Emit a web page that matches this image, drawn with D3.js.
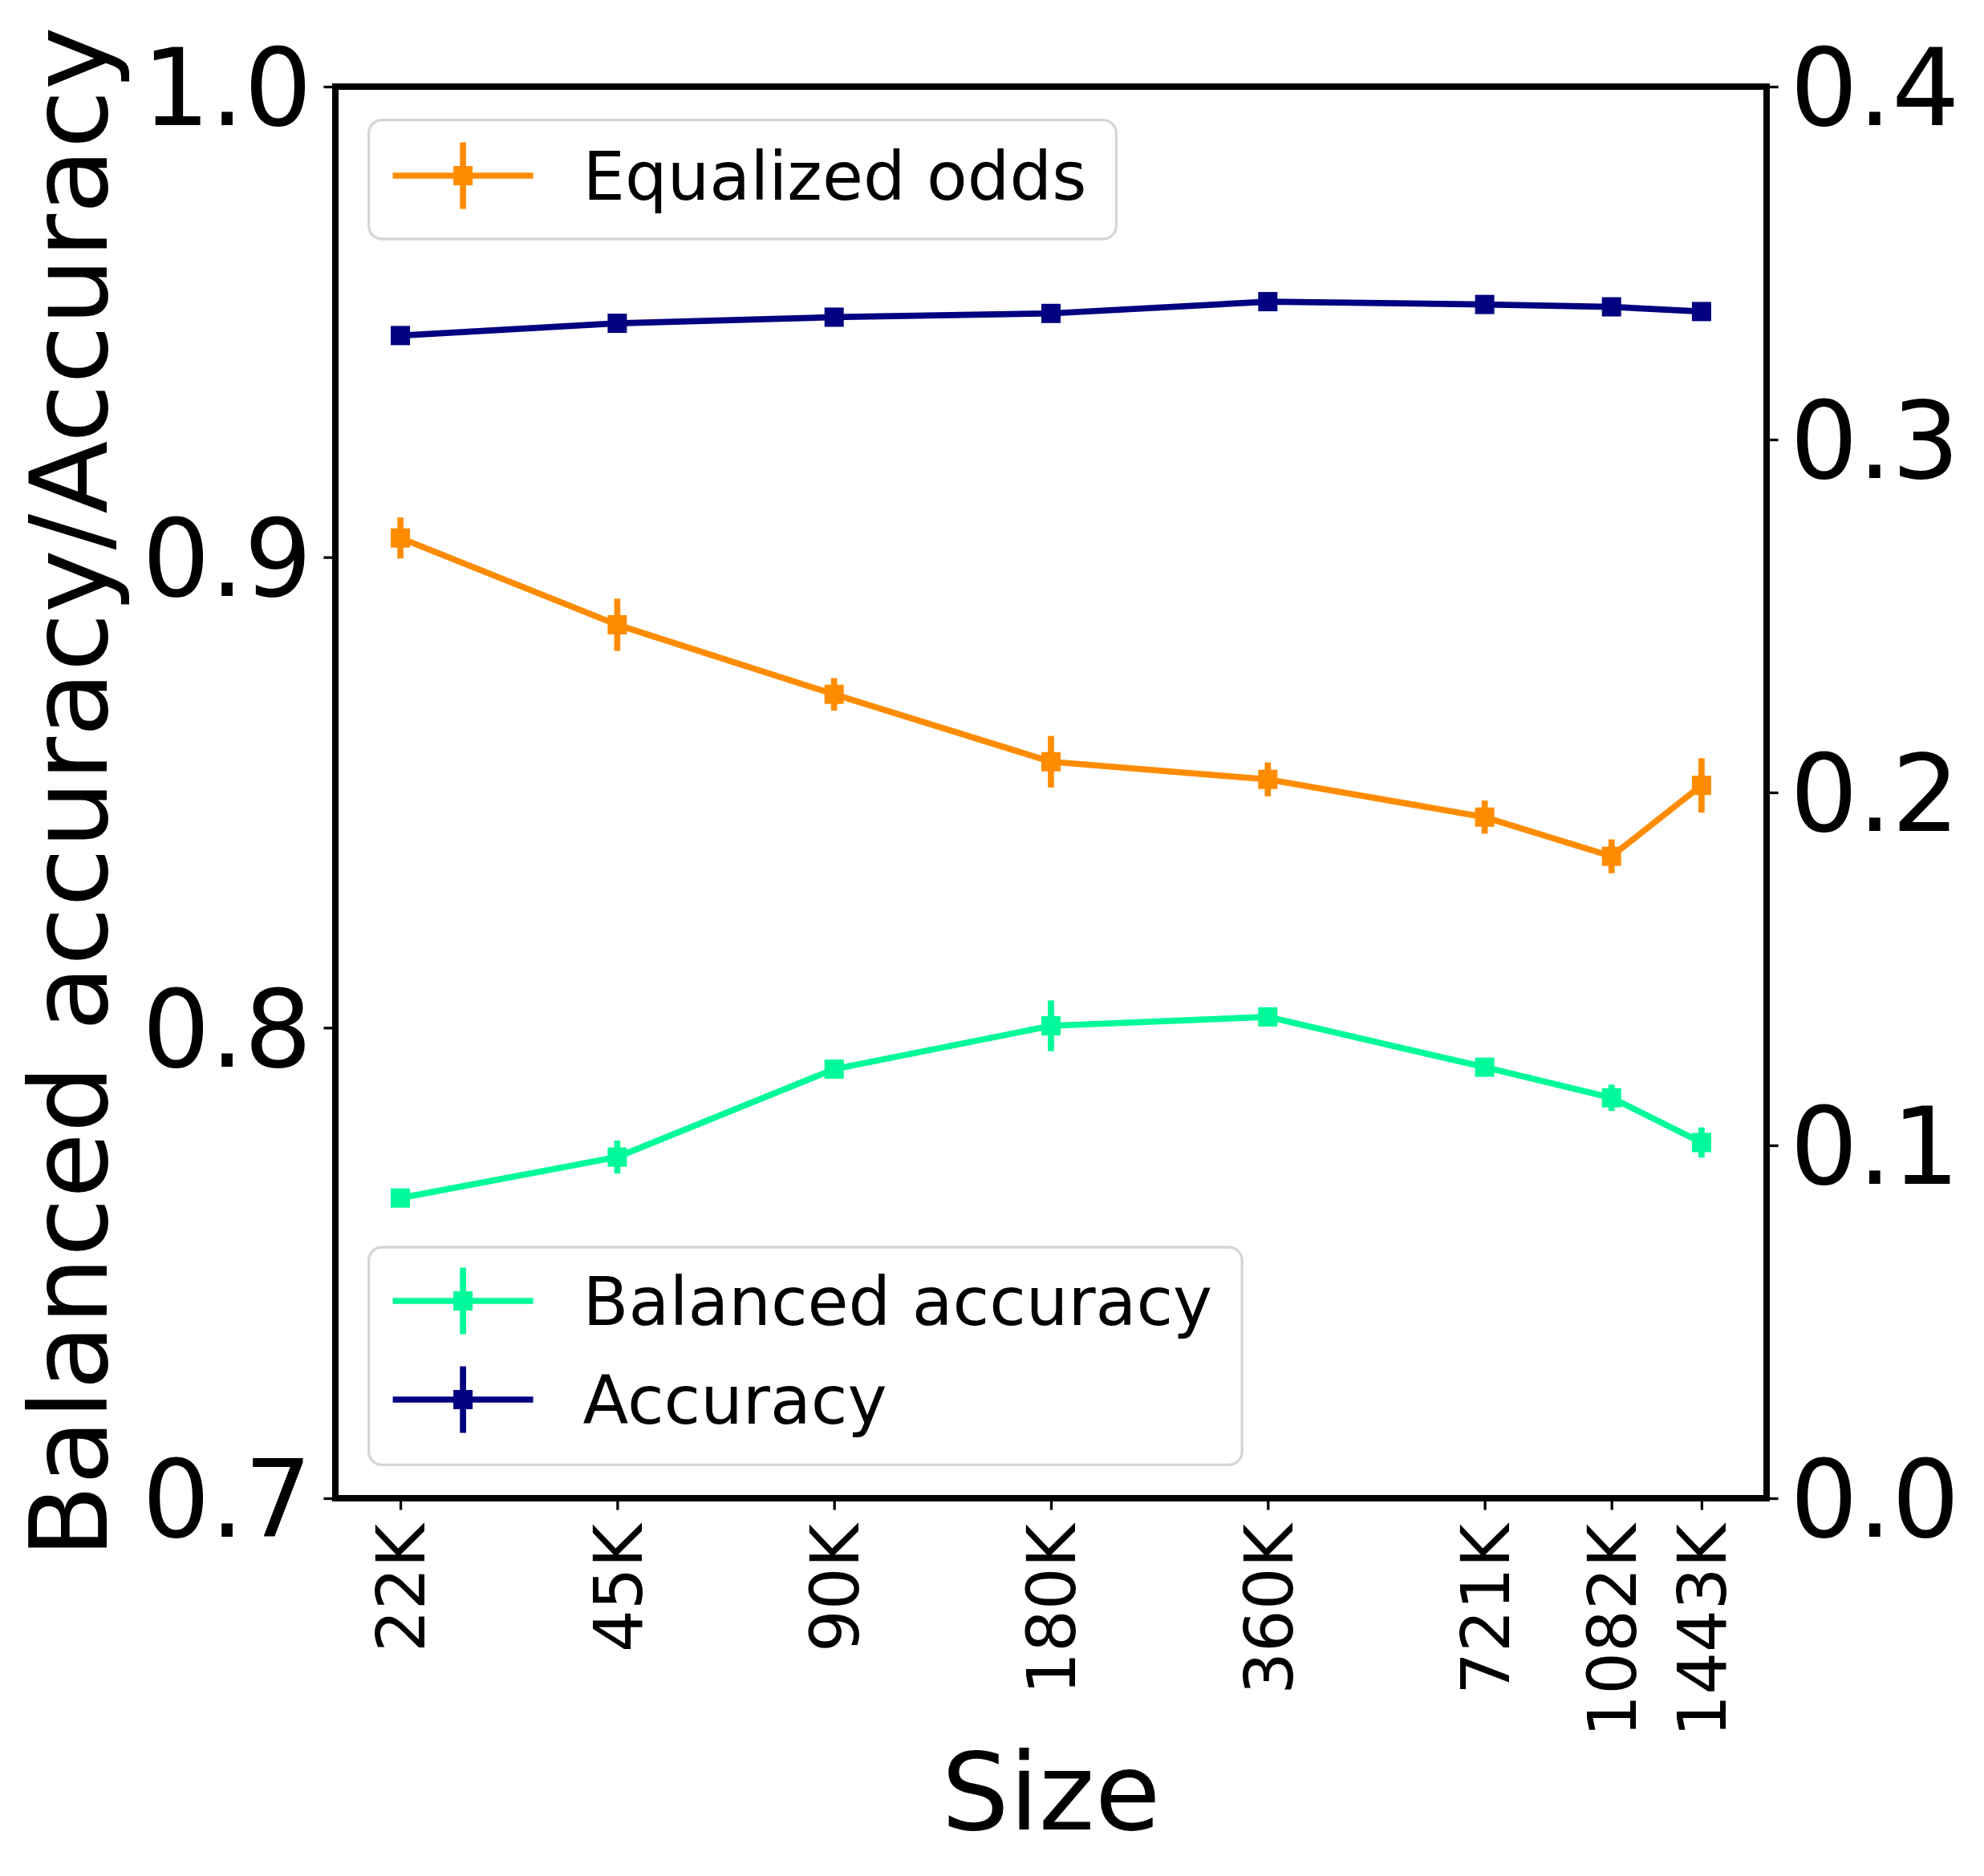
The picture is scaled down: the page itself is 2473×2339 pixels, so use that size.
<!DOCTYPE html>
<html>
<head>
<meta charset="utf-8">
<script src="https://cdn.jsdelivr.net/npm/d3@7"></script>
<style>
  html, body { margin: 0; padding: 0; background: #fff; }
  svg { display: block; font-family: "DejaVu Sans", sans-serif; }
</style>
</head>
<body>
<script>
// data
var sizes = [22547, 45094, 90188, 180375, 360750, 721500, 1082250, 1443000];
var sizeLabels = ["22K", "45K", "90K", "180K", "360K", "721K", "1082K", "1443K"];

var accuracy    = [0.9471, 0.9497, 0.9510, 0.9518, 0.9543, 0.9537, 0.9532, 0.9522];
var accuracyErr = [0.0010, 0.0008, 0.0007, 0.0008, 0.0006, 0.0007, 0.0008, 0.0009];

var balanced    = [0.7638, 0.7725, 0.7912, 0.8004, 0.8023, 0.7916, 0.7851, 0.7756];
var balancedErr = [0.0012, 0.0035, 0.0020, 0.0054, 0.0012, 0.0012, 0.0028, 0.0032];

var eqOdds    = [0.2721, 0.2475, 0.2278, 0.2087, 0.2037, 0.1930, 0.1819, 0.2020];
var eqOddsErr = [0.0058, 0.0074, 0.0046, 0.0073, 0.0048, 0.0047, 0.0048, 0.0077];

var leftTicks = [0.7, 0.8, 0.9, 1.0];
var rightTicks = [0.0, 0.1, 0.2, 0.3, 0.4];

var W = 2473, H = 2339;
var axLeft = 418, axRight = 2202, axTop = 108, axBottom = 1868;

var lw = 7.7, ms = 24, tickLen = 14.6, tickW = 3.3;
var bigFont = 133, legFont = 83, xtickFont = 83;

var svg = d3.select("body").append("svg")
    .attr("width", W)
    .attr("height", H);

svg.append("rect").attr("width", W).attr("height", H).attr("fill", "#fff");

// log x with 5% margins like matplotlib
var ratio = sizes[sizes.length - 1] / sizes[0];
var pad = Math.pow(ratio, 0.05);
var x = d3.scaleLog()
    .domain([sizes[0] / pad, sizes[sizes.length - 1] * pad])
    .range([axLeft, axRight]);
var yL = d3.scaleLinear().domain([0.7, 1.0]).range([axBottom, axTop]);
var yR = d3.scaleLinear().domain([0.0, 0.4]).range([axBottom, axTop]);

function drawSeries(vals, errs, yScale, color) {
  var g = svg.append("g");
  var pts = sizes.map(function(s, i) { return { x: s, y: vals[i], e: errs[i] }; });
  var line = d3.line()
      .x(function(d) { return x(d.x); })
      .y(function(d) { return yScale(d.y); });
  g.append("path")
      .datum(pts)
      .attr("d", line)
      .attr("fill", "none")
      .attr("stroke", color)
      .attr("stroke-width", lw)
      .attr("stroke-linejoin", "round");
  g.selectAll(".err")
      .data(pts)
    .enter().append("line")
      .attr("x1", function(d) { return x(d.x); })
      .attr("x2", function(d) { return x(d.x); })
      .attr("y1", function(d) { return yScale(d.y - d.e); })
      .attr("y2", function(d) { return yScale(d.y + d.e); })
      .attr("stroke", color)
      .attr("stroke-width", lw);
  g.selectAll(".mk")
      .data(pts)
    .enter().append("rect")
      .attr("x", function(d) { return x(d.x) - ms / 2; })
      .attr("y", function(d) { return yScale(d.y) - ms / 2; })
      .attr("width", ms)
      .attr("height", ms)
      .attr("fill", color);
}

drawSeries(balanced, balancedErr, yL, "#00fa9a");
drawSeries(accuracy, accuracyErr, yL, "#000080");
drawSeries(eqOdds, eqOddsErr, yR, "#ff8c00");

// axes
var axL = svg.append("g")
    .attr("transform", "translate(" + axLeft + ",0)")
    .call(d3.axisLeft(yL).tickValues(leftTicks).tickFormat(d3.format(".1f"))
      .tickSize(tickLen).tickPadding(tickLen));
var axR = svg.append("g")
    .attr("transform", "translate(" + axRight + ",0)")
    .call(d3.axisRight(yR).tickValues(rightTicks).tickFormat(d3.format(".1f"))
      .tickSize(tickLen).tickPadding(tickLen));
var axB = svg.append("g")
    .attr("transform", "translate(0," + axBottom + ")")
    .call(d3.axisBottom(x).tickValues(sizes)
      .tickFormat(function(d, i) { return sizeLabels[i]; })
      .tickSize(tickLen));

[axL, axR, axB].forEach(function(a) {
  a.attr("font-family", null).attr("font-size", null);
  a.select(".domain").remove();
  a.selectAll(".tick line").attr("stroke", "#000").attr("stroke-width", tickW);
  a.selectAll(".tick text").attr("fill", "#000");
});
axL.selectAll(".tick text").attr("font-size", bigFont).attr("dy", "0.36em");
axR.selectAll(".tick text").attr("font-size", bigFont).attr("dy", "0.36em");
axB.selectAll(".tick text")
    .attr("font-size", xtickFont)
    .attr("text-anchor", "end")
    .attr("y", 0)
    .attr("dy", "0.36em")
    .attr("transform", "translate(0,32) rotate(-90)");

// spines
svg.append("rect")
    .attr("x", axLeft).attr("y", axTop)
    .attr("width", axRight - axLeft).attr("height", axBottom - axTop)
    .attr("fill", "none")
    .attr("stroke", "#000")
    .attr("stroke-width", 8);

// axis labels
svg.append("text")
    .attr("transform", "translate(133," + (axTop + axBottom) / 2 + ") rotate(-90)")
    .attr("text-anchor", "middle")
    .attr("font-size", bigFont)
    .text("Balanced accuracy/Accuracy");
svg.append("text")
    .attr("x", (axLeft + axRight) / 2)
    .attr("y", 2281)
    .attr("text-anchor", "middle")
    .attr("font-size", bigFont)
    .text("Size");

// legends
function legend(entries, boxLeft, boxTop, boxBottom, rowYs) {
  var g = svg.append("g");
  var frame = g.append("rect")
      .attr("x", boxLeft).attr("y", boxTop)
      .attr("height", boxBottom - boxTop)
      .attr("rx", 16.6).attr("ry", 16.6)
      .attr("fill", "#fff")
      .attr("fill-opacity", 0.8)
      .attr("stroke", "#d6d6d6")
      .attr("stroke-width", 3.3);
  var maxW = 0;
  entries.forEach(function(e, i) {
    var cy = rowYs[i];
    var h0 = boxLeft + 30, h1 = h0 + 175, hc = (h0 + h1) / 2;
    g.append("line").attr("x1", h0).attr("x2", h1).attr("y1", cy).attr("y2", cy)
        .attr("stroke", e.color).attr("stroke-width", lw);
    g.append("line").attr("x1", hc).attr("x2", hc).attr("y1", cy - 41.5).attr("y2", cy + 41.5)
        .attr("stroke", e.color).attr("stroke-width", lw);
    g.append("rect").attr("x", hc - ms / 2).attr("y", cy - ms / 2)
        .attr("width", ms).attr("height", ms).attr("fill", e.color);
    var t = g.append("text")
        .attr("x", h1 + 62)
        .attr("y", cy)
        .attr("dy", "0.36em")
        .attr("font-size", legFont)
        .text(e.label);
    maxW = Math.max(maxW, h1 + 62 + t.node().getComputedTextLength() - boxLeft);
  });
  frame.attr("width", maxW + 37);
}

legend([{ label: "Equalized odds", color: "#ff8c00" }], 459.6, 149.6, 298, [219]);
legend([{ label: "Balanced accuracy", color: "#00fa9a" },
        { label: "Accuracy", color: "#000080" }], 459.6, 1555, 1826.4, [1622, 1745]);
</script>
</body>
</html>
